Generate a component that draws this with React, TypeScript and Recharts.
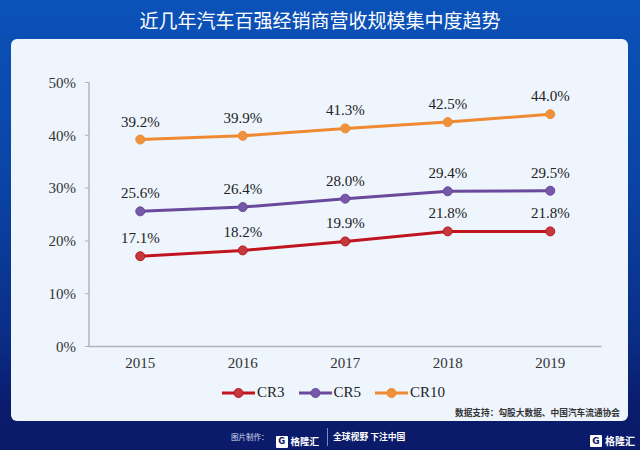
import { LineChart, Line, XAxis, YAxis, LabelList, Legend } from "recharts";

const years = ["2015", "2016", "2017", "2018", "2019"];
const cr3 = [17.1, 18.2, 19.9, 21.8, 21.8];
const cr5 = [25.6, 26.4, 28.0, 29.4, 29.5];
const cr10 = [39.2, 39.9, 41.3, 42.5, 44.0];
const yTicks = [0, 10, 20, 30, 40, 50];

const series = [
  { key: "CR3", color: "#c0141f", dot: "#c33a3e" },
  { key: "CR5", color: "#6a4a9c", dot: "#7658a8" },
  { key: "CR10", color: "#ef8a33", dot: "#f0923d" },
];

const data = years.map((year, i) => ({
  year,
  CR3: cr3[i],
  CR5: cr5[i],
  CR10: cr10[i],
}));

const serif = "'Liberation Serif', 'Times New Roman', serif";
const cjk = "'Noto Sans CJK SC', 'Noto Sans', sans-serif";

function renderLegend() {
  return (
    <div style={{ display: "flex", alignItems: "center", fontFamily: serif, fontSize: 15, color: "#222" }}>
      {series.map((s) => (
        <div key={s.key} style={{ display: "flex", alignItems: "center", marginRight: 14 }}>
          <svg width={33} height={12} style={{ marginRight: 2 }}>
            <line x1={0} y1={6} x2={33} y2={6} stroke={s.color} strokeWidth={3} />
            <circle cx={16.5} cy={6} r={4.5} fill={s.dot} stroke={s.color} strokeWidth={1} />
          </svg>
          <span>{s.key}</span>
        </div>
      ))}
    </div>
  );
}

function Logo({ size = 10 }: { size?: number }) {
  return (
    <span style={{ display: "inline-flex", alignItems: "center", whiteSpace: "nowrap" }}>
      <span
        style={{
          display: "inline-block",
          width: size + 2,
          height: size + 2,
          background: "#fff",
          color: "#0b1a6a",
          fontFamily: "'DejaVu Sans', sans-serif",
          fontWeight: 700,
          fontSize: size - 1,
          lineHeight: `${size + 2}px`,
          textAlign: "center",
          borderRadius: 1,
          marginRight: 3,
        }}
      >
        G
      </span>
      <span style={{ fontFamily: cjk, fontWeight: 700, fontSize: size, color: "#fff", lineHeight: `${size + 4}px` }}>
        格隆汇
      </span>
    </span>
  );
}

export default function App() {
  return (
    <div
      style={{
        position: "relative",
        width: 640,
        height: 450,
        overflow: "hidden",
        background: "linear-gradient(to bottom, #0b52b9 0%, #0a44a6 40%, #0a2d86 75%, #0b1c6e 90%, #0b1a69 100%)",
      }}
    >
      <style>{`body{margin:0}`}</style>
      <div
        style={{
          position: "absolute",
          left: 0,
          top: 7,
          width: 640,
          textAlign: "center",
          color: "#fff",
          fontFamily: cjk,
          fontSize: 19,
          lineHeight: "26px",
        }}
      >
        近几年汽车百强经销商营收规模集中度趋势
      </div>
      <div
        style={{
          position: "absolute",
          left: 11,
          top: 39,
          width: 617,
          height: 382,
          background: "#eef5fd",
          borderRadius: 6,
        }}
      />
      <div style={{ position: "absolute", left: 0, top: 0 }}>
        <LineChart width={640} height={450} data={data} margin={{ top: 82.5, right: 38.5, bottom: 73.5, left: 0 }}>
          <XAxis
            dataKey="year"
            height={30}
            padding={{ left: 51.25, right: 51.25 }}
            tickLine={false}
            tickSize={6}
            tickMargin={5}
            axisLine={{ stroke: "#b4b4b4", strokeWidth: 1.5 }}
            tick={{ fill: "#333", fontSize: 15, fontFamily: serif }}
          />
          <YAxis
            width={89}
            domain={[0, 50]}
            ticks={yTicks}
            interval={0}
            tickFormatter={(v) => `${v}%`}
            tickSize={4}
            tickMargin={9}
            tickLine={{ stroke: "#b4b4b4" }}
            axisLine={{ stroke: "#b4b4b4", strokeWidth: 1.5 }}
            tick={{ fill: "#333", fontSize: 15, fontFamily: serif }}
          />
          <Legend
            layout="horizontal"
            verticalAlign="middle"
            align="center"
            content={renderLegend}
            wrapperStyle={{ left: 222, top: 384, width: 280 }}
          />
          {series.map((s) => (
            <Line
              key={s.key}
              dataKey={s.key}
              type="linear"
              stroke={s.color}
              strokeWidth={3}
              dot={{ r: 4.5, fill: s.dot, stroke: s.color, strokeWidth: 1 }}
              isAnimationActive={false}
            >
              <LabelList
                dataKey={s.key}
                position="top"
                offset={13}
                formatter={(v: any) => `${Number(v).toFixed(1)}%`}
                style={{ fill: "#222", fontSize: 15, fontFamily: serif }}
              />
            </Line>
          ))}
        </LineChart>
      </div>
      <div
        style={{
          position: "absolute",
          right: 20,
          top: 406,
          fontFamily: cjk,
          fontWeight: 700,
          fontSize: 8.7,
          color: "#333",
          lineHeight: "14px",
          whiteSpace: "nowrap",
        }}
      >
        数据支持：勾股大数据、中国汽车流通协会
      </div>
      <div
        style={{
          position: "absolute",
          left: 231,
          top: 430,
          fontFamily: cjk,
          fontSize: 7.5,
          lineHeight: "14px",
          color: "#d5dcf0",
          whiteSpace: "nowrap",
        }}
      >
        图片制作：
      </div>
      <div style={{ position: "absolute", left: 276, top: 430 }}>
        <Logo size={9.5} />
      </div>
      <div style={{ position: "absolute", left: 327, top: 428, width: 1, height: 18, background: "#7d8cc0" }} />
      <div
        style={{
          position: "absolute",
          left: 333,
          top: 430,
          fontFamily: cjk,
          fontWeight: 700,
          fontSize: 8.8,
          lineHeight: "14px",
          color: "#fff",
          whiteSpace: "nowrap",
        }}
      >
        全球视野 下注中国
      </div>
      <div style={{ position: "absolute", left: 590, top: 430 }}>
        <Logo size={10} />
      </div>
    </div>
  );
}
